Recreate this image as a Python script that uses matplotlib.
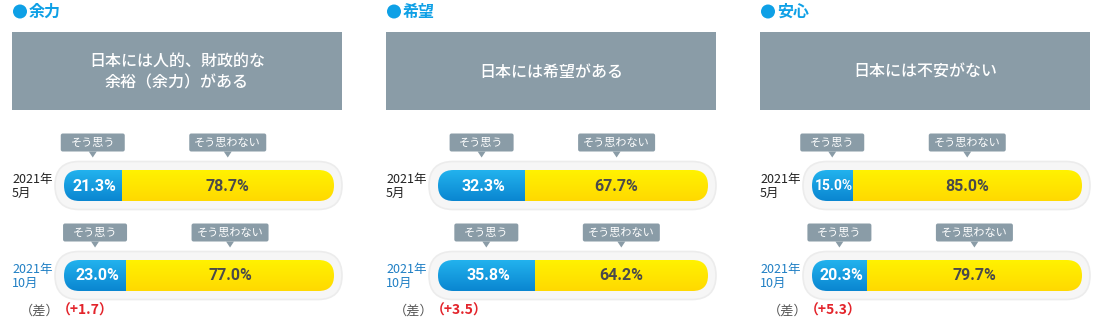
import numpy as np
import matplotlib as mpl
mpl.use('Agg')
import matplotlib.pyplot as plt
from matplotlib.patches import FancyBboxPatch, Polygon, Circle

plt.rcParams['font.family'] = ['Noto Sans CJK JP', 'DejaVu Sans']

# data
titles = ['余力', '希望', '安心']
questions = ['日本には人的、財政的な\n余裕（余力）がある', '日本には希望がある', '日本には不安がない']
periods = ['2021年\n5月', '2021年\n10月']
yes_may = [21.3, 32.3, 15.0]
no_may = [78.7, 67.7, 85.0]
yes_oct = [23.0, 35.8, 20.3]
no_oct = [77.0, 64.2, 79.7]
diffs = ['+1.7', '+3.5', '+5.3']
yes_label = 'そう思う'
no_label = 'そう思わない'

BLUE = '#0ea0e6'
GRAY = '#8a9ca7'
NUMFONT = ['Roboto', 'DejaVu Sans']

fig = plt.figure(figsize=(11, 3.22), dpi=100)
ax = fig.add_axes([0, 0, 1, 1])
ax.set_xlim(0, 1100)
ax.set_ylim(322, 0)
ax.axis('off')

grad = np.linspace(0, 1, 50).reshape(-1, 1)
cm_blue = mpl.colors.LinearSegmentedColormap.from_list('b', ['#22b2ee', '#0a86d0'])
cm_yel = mpl.colors.LinearSegmentedColormap.from_list('y', ['#fff200', '#ffd900'])


def callout(cx, ytop, label, w):
    h = 18
    box = FancyBboxPatch((cx - w / 2, ytop), w, h, boxstyle='round,pad=0,rounding_size=2',
                         fc=GRAY, ec='none', zorder=3)
    ax.add_patch(box)
    ax.add_patch(Polygon([[cx - 4, ytop + h], [cx + 4, ytop + h], [cx, ytop + h + 6]],
                         closed=True, fc=GRAY, ec='none', zorder=3))
    ax.text(cx, ytop + h / 2 + 0.5, label, color='white', fontsize=8, ha='center', va='center', zorder=4)


def bar_row(ox, yc, yes, no, period, pcol):
    # outer pill
    ax.add_patch(FancyBboxPatch((55 + ox, yc - 24), 287, 48, boxstyle='round,pad=0,rounding_size=24',
                                fc='#f6f6f6', ec='#ececec', lw=1.2, zorder=1))
    x0, w, h = 64 + ox, 270, 31
    pill = FancyBboxPatch((x0, yc - h / 2), w, h, boxstyle='round,pad=0,rounding_size=15.5',
                          fc='none', ec='none', zorder=2)
    ax.add_patch(pill)
    xs = x0 + w * yes / 100
    im1 = ax.imshow(grad, cmap=cm_blue, aspect='auto', extent=(x0, xs, yc + h / 2, yc - h / 2), zorder=2)
    im1.set_clip_path(pill)
    im2 = ax.imshow(grad, cmap=cm_yel, aspect='auto', extent=(xs, x0 + w, yc + h / 2, yc - h / 2), zorder=2)
    im2.set_clip_path(pill)
    fs = 11.5 if yes >= 20 else 10
    ax.text((x0 + xs) / 2 + 2, yc + 0.5, f'{yes:.1f}%', color='white', fontsize=fs, fontweight='bold',
            family=NUMFONT, ha='center', va='center', zorder=4)
    ax.text((xs + x0 + w) / 2, yc + 0.5, f'{no:.1f}%', color='#4a4a4a', fontsize=11.5, fontweight='bold',
            family=NUMFONT, ha='center', va='center', zorder=4)
    callout((x0 + xs) / 2, yc - 52, yes_label, 64)
    callout((xs + x0 + w) / 2, yc - 52, no_label, 77)
    ax.text(12 + ox, yc + 1, period, color=pcol, fontsize=9, ha='left', va='center', linespacing=1.15)


for i in range(3):
    ox = i * 374
    ax.add_patch(Circle((20 + ox, 11.5), 7, fc=BLUE, ec='none'))
    ax.text(29 + ox, 12, titles[i], color=BLUE, fontsize=11.5, fontweight='bold', ha='left', va='center')
    ax.add_patch(plt.Rectangle((12 + ox, 32), 330, 78, fc=GRAY, ec='none'))
    ax.text(177 + ox, 72, questions[i], color='white', fontsize=11.5, ha='center', va='center',
            linespacing=1.3, fontweight='medium')
    bar_row(ox, 185.5, yes_may[i], no_may[i], periods[0], '#222222')
    bar_row(ox, 275.5, yes_oct[i], no_oct[i], periods[1], '#1f7fc4')
    ax.text(20 + ox, 311, '（差）', color='#555555', fontsize=9.5, ha='left', va='center')
    ax.text(57 + ox, 311, '（' + diffs[i] + '）', color='#e3242b', fontsize=10, fontweight='bold',
            ha='left', va='center')

fig.savefig('out.png', dpi=100)
plt.close()
